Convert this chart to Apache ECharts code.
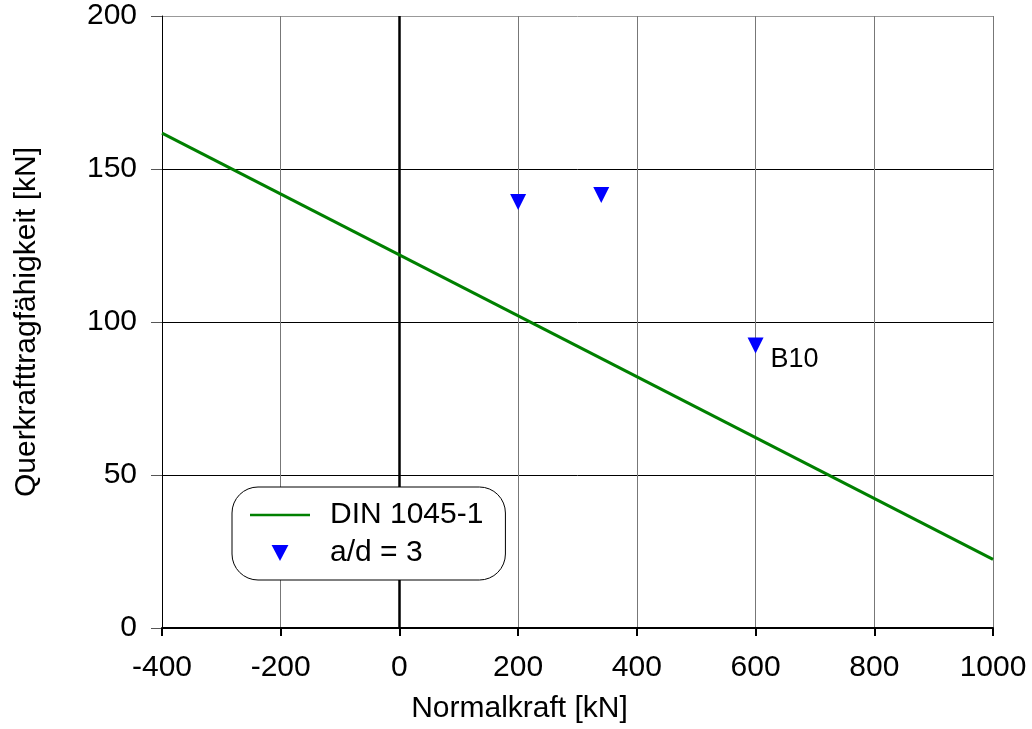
<!DOCTYPE html>
<html>
<head>
<meta charset="utf-8">
<script src="https://cdn.jsdelivr.net/npm/echarts@6/dist/echarts.min.js"></script>
<style>
html,body{margin:0;padding:0;background:#fff;}
#chart{width:1032px;height:729px;}
</style>
</head>
<body>
<div id="chart"></div>
<script>
// Data
const xTitle = 'Normalkraft [kN]';
const yTitle = 'Querkrafttragfähigkeit [kN]';
const lineName = 'DIN 1045-1';
const lineX = [-400, 1000];
const lineY = [161.7, 22.4];
const pointName = 'a/d = 3';
const pointX = [200, 340, 600];
const pointY = [139.2, 141.5, 92.3];
const pointLabels = ['', '', 'B10'];

const FONT = '"Liberation Sans", Arial, sans-serif';
const FS = 30;
const triDown = 'path://M0,0L2,0L1,1.9Z';
const lineIcon = 'path://M0,0L60,0L60,2.5L0,2.5Z';

const chart = echarts.init(document.getElementById('chart'), null, {renderer: 'canvas'});
chart.setOption({
  backgroundColor: '#ffffff',
  animation: false,
  textStyle: {fontFamily: FONT},
  grid: {left: 162, right: 39, top: 16, bottom: 101, containLabel: false},
  xAxis: {
    type: 'value', min: -400, max: 1000, interval: 200,
    name: xTitle, nameLocation: 'middle', nameGap: 66,
    nameTextStyle: {fontSize: FS, color: '#000', fontFamily: FONT, padding: [0, 116, 0, 0]},
    axisLine: {show: true, onZero: false, lineStyle: {color: '#000', width: 2}},
    axisTick: {show: true, inside: false, length: 8, lineStyle: {color: '#000', width: 2}},
    axisLabel: {fontSize: FS, color: '#000', margin: 25, fontFamily: FONT, formatter: v => String(v)},
    splitLine: {show: true, lineStyle: {color: ['#000', '#777', '#777', '#777', '#777', '#777', '#777', '#777'], width: 1}}
  },
  yAxis: {
    type: 'value', min: 0, max: 200, interval: 50,
    name: yTitle, nameLocation: 'middle', nameGap: 120, nameRotate: 90,
    nameTextStyle: {fontSize: FS, color: '#000', fontFamily: FONT},
    axisLine: {show: true, onZero: false, lineStyle: {color: '#000', width: 1}},
    axisTick: {show: true, inside: false, length: 11, lineStyle: {color: '#555', width: 1}},
    axisLabel: {fontSize: FS, color: '#000', margin: 25, fontFamily: FONT},
    splitLine: {show: true, lineStyle: {color: ['#000', '#000', '#000', '#000', '#999'], width: 1}}
  },
  legend: {
    orient: 'vertical',
    left: 232, top: 487, z: 20, zlevel: 0,
    backgroundColor: '#fff',
    borderColor: '#000', borderWidth: 1, borderRadius: 26,
    padding: [13, 22, 12, 18],
    itemWidth: 60, itemHeight: 16, itemGap: 8,
    textStyle: {fontSize: FS, color: '#000', fontFamily: FONT, lineHeight: 30, padding: [0, 0, 0, 15]},
    data: [
      {name: lineName, icon: lineIcon},
      {name: pointName, icon: triDown}
    ]
  },
  series: [
    {
      name: lineName, type: 'line', symbol: 'none', showSymbol: false,
      data: lineX.map((x, i) => [x, lineY[i]]),
      lineStyle: {color: '#008000', width: 3},
      itemStyle: {color: '#008000'},
      z: 3,
      markLine: {
        silent: true, symbol: ['none', 'none'], z: 2,
        label: {show: false},
        lineStyle: {color: '#000', width: 2.5, type: 'solid'},
        data: [{xAxis: 0}]
      }
    },
    {
      name: pointName, type: 'scatter',
      symbol: triDown, symbolSize: [16, 16],
      itemStyle: {color: '#0000ff', opacity: 1},
      z: 4,
      data: pointX.map((x, i) => ({value: [x, pointY[i]], label: {show: !!pointLabels[i], formatter: pointLabels[i]}})),
      label: {position: 'right', distance: 0, offset: [7, 14], fontSize: 27, color: '#000', opacity: 1, fontFamily: FONT}
    }
  ]
});
</script>
</body>
</html>
